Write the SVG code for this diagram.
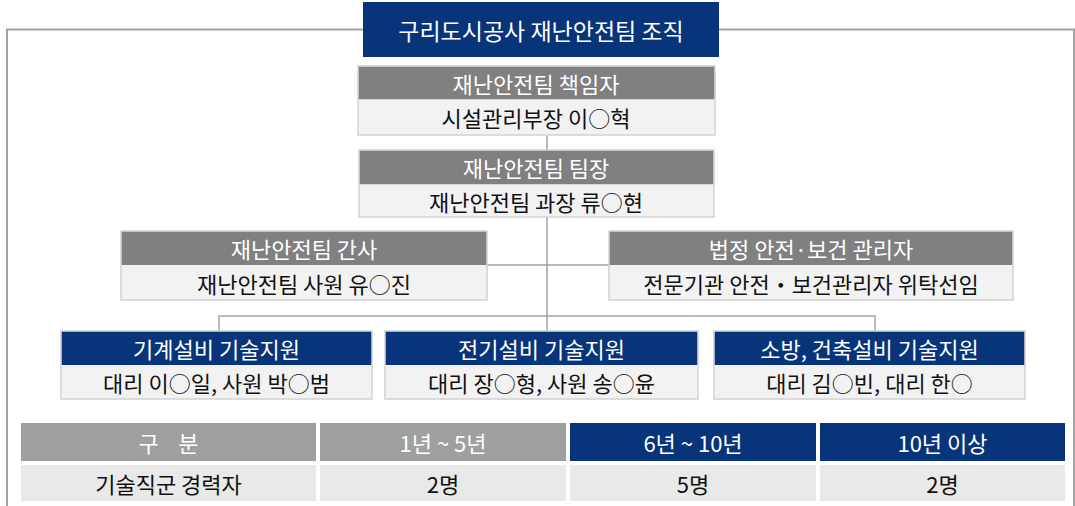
<svg xmlns="http://www.w3.org/2000/svg" width="1075" height="506" viewBox="0 0 1075 506">
<style>
text{font-family:"Noto Sans CJK KR","Noto Sans",sans-serif;text-anchor:middle;dominant-baseline:central}
.hw{fill:#fff;font-size:22px}
.bt{fill:#111;font-size:22px}
.body{fill:#f2f2f2;stroke:#d2d2d2;stroke-width:1.5}
.hg{fill:#808080}
.hn{fill:#08357a}
.conn{fill:none;stroke:#a3a3a3;stroke-width:1.5}
.tg{fill:#9f9f9f}
.tr{fill:#e9e9e9}
</style>
<rect x="7" y="29.5" width="1067" height="520" fill="none" stroke="#a3a3a3" stroke-width="2"/>
<g id="title">
<rect x="363" y="2" width="356" height="55" fill="#08357a"/>
<text x="541" y="30" fill="#fff" style="font-size:23px">구리도시공사 재난안전팀 조직</text>
</g>
<g id="connectors">
<path class="conn" d="M547 135V150M547 217V331M487 265H609M219 331V316H875V331"/>
</g>
<g id="n1">
<rect class="body" x="358" y="66" width="357" height="69"/>
<rect class="hg" x="358.75" y="66.75" width="355.5" height="32.5"/>
<text class="hw" x="536" y="83">재난안전팀 책임자</text>
<text class="bt" x="536" y="117">시설관리부장 이○혁</text>
</g>
<g id="n2">
<rect class="body" x="359" y="150" width="355" height="67"/>
<rect class="hg" x="359.75" y="150.75" width="353.5" height="33.5"/>
<text class="hw" x="536" y="167">재난안전팀 팀장</text>
<text class="bt" x="536" y="200.5">재난안전팀 과장 류○현</text>
</g>
<g id="n3">
<rect class="body" x="121" y="231" width="366" height="69"/>
<rect class="hg" x="121.75" y="231.75" width="364.5" height="33.25"/>
<text class="hw" x="304" y="248">재난안전팀 간사</text>
<text class="bt" x="304" y="282.5">재난안전팀 사원 유○진</text>
</g>
<g id="n4">
<rect class="body" x="609" y="231" width="404" height="69"/>
<rect class="hg" x="609.75" y="231.75" width="402.5" height="33.25"/>
<text class="hw" x="811" y="248">법정 안전·보건 관리자</text>
<text class="bt" x="811" y="282.5">전문기관 안전・보건관리자 위탁선임</text>
</g>
<g id="n5">
<rect class="body" x="61" y="331" width="311" height="68"/>
<rect class="hn" x="61.75" y="331.75" width="309.5" height="33.25"/>
<text class="hw" x="216.5" y="348">기계설비 기술지원</text>
<text class="bt" x="216.5" y="382">대리 이○일, 사원 박○범</text>
</g>
<g id="n6">
<rect class="body" x="385" y="331" width="313" height="68"/>
<rect class="hn" x="385.75" y="331.75" width="311.5" height="33.25"/>
<text class="hw" x="541.5" y="348">전기설비 기술지원</text>
<text class="bt" x="541.5" y="382">대리 장○형, 사원 송○윤</text>
</g>
<g id="n7">
<rect class="body" x="714" y="331" width="311" height="68"/>
<rect class="hn" x="714.75" y="331.75" width="309.5" height="33.25"/>
<text class="hw" x="869.5" y="348">소방, 건축설비 기술지원</text>
<text class="bt" x="869.5" y="382">대리 김○빈, 대리 한○</text>
</g>
<g id="table">
<rect class="tg" x="21" y="423" width="295" height="38"/>
<rect class="tg" x="320" y="423" width="246" height="38"/>
<rect class="hn" x="570" y="423" width="246" height="38"/>
<rect class="hn" x="820" y="423" width="245" height="38"/>
<rect class="tr" x="21" y="465" width="295" height="36"/>
<rect class="tr" x="320" y="465" width="246" height="36"/>
<rect class="tr" x="570" y="465" width="246" height="36"/>
<rect class="tr" x="820" y="465" width="245" height="36"/>
<text class="hw" x="168.5" y="442" xml:space="preserve">구    분</text>
<text class="hw" x="443" y="442">1년 ~ 5년</text>
<text class="hw" x="693" y="442">6년 ~ 10년</text>
<text class="hw" x="942.5" y="442">10년 이상</text>
<text class="bt" x="168.5" y="483">기술직군 경력자</text>
<text class="bt" x="443" y="483">2명</text>
<text class="bt" x="693" y="483">5명</text>
<text class="bt" x="942.5" y="483">2명</text>
</g>
</svg>
